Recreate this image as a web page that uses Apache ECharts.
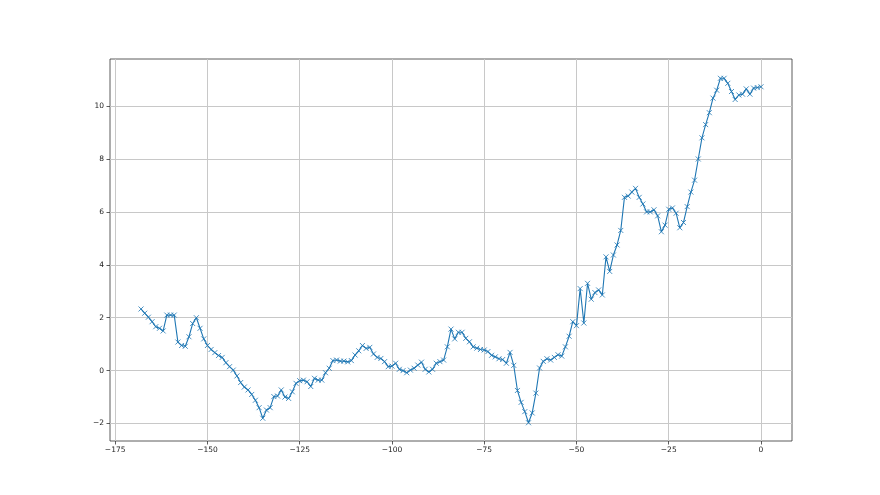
<!DOCTYPE html>
<html>
<head>
<meta charset="utf-8">
<script src="https://cdn.jsdelivr.net/npm/echarts@6/dist/echarts.min.js"></script>
<style>html,body{margin:0;padding:0;background:#fff;}#c{width:880px;height:495px;}</style>
</head>
<body>
<div id="c"></div>
<script>
const xStart = -168;
const values = [
 2.33, 2.17, 2.02, 1.85, 1.66, 1.6, 1.5, 2.1, 2.1, 2.1,
 1.08, 0.95, 0.92, 1.28, 1.78, 2.0, 1.6, 1.2, 0.95, 0.8,
 0.68, 0.57, 0.5, 0.3, 0.15, 0.02, -0.2, -0.45, -0.62, -0.73,
 -0.9, -1.12, -1.4, -1.8, -1.49, -1.4, -0.98, -0.96, -0.73, -1.0,
 -1.05, -0.8, -0.48, -0.38, -0.36, -0.42, -0.6, -0.29, -0.36, -0.36,
 -0.08, 0.09, 0.38, 0.4, 0.36, 0.36, 0.33, 0.38, 0.59, 0.75,
 0.95, 0.84, 0.88, 0.63, 0.5, 0.46, 0.34, 0.15, 0.17, 0.28,
 0.05, 0.0, -0.08, 0.02, 0.09, 0.21, 0.32, 0.05, -0.05, 0.05,
 0.28, 0.34, 0.4, 0.9, 1.57, 1.2, 1.45, 1.45, 1.22, 1.09,
 0.9, 0.85, 0.8, 0.78, 0.72, 0.58, 0.52, 0.45, 0.42, 0.28,
 0.69, 0.2, -0.75, -1.2, -1.55, -1.97, -1.6, -0.85, 0.1, 0.35,
 0.45, 0.4, 0.5, 0.6, 0.55, 0.9, 1.3, 1.85, 1.7, 3.1,
 1.8, 3.3, 2.7, 2.95, 3.05, 2.86, 4.3, 3.75, 4.37, 4.75,
 5.3, 6.55, 6.6, 6.75, 6.89, 6.55, 6.3, 6.0, 6.0, 6.08,
 5.85, 5.25, 5.5, 6.1, 6.15, 5.95, 5.4, 5.6, 6.2, 6.75,
 7.2, 8.0, 8.8, 9.3, 9.75, 10.3, 10.6, 11.05, 11.05, 10.86,
 10.55, 10.25, 10.42, 10.45, 10.65, 10.45, 10.68, 10.7, 10.73
];
const xTicks = [-175, -150, -125, -100, -75, -50, -25, 0];
const yTicks = [-2, 0, 2, 4, 6, 8, 10];

const data = values.map((v, i) => [xStart + i, v]);
const fmt = v => String(v).replace('-', '\u2212');
const labelStyle = {fontFamily: 'DejaVu Sans', fontSize: 7.5, color: '#222'};

const chart = echarts.init(document.getElementById('c'), null, {renderer: 'canvas'});
chart.setOption({
  animation: false,
  backgroundColor: '#fff',
  grid: {left: 110, right: 88, top: 59, bottom: 54, show: true, borderColor: '#333', borderWidth: 0.8, backgroundColor: 'transparent'},
  xAxis: {
    type: 'value', min: -176.4, max: 8.4,
    axisLine: {show: false, onZero: false},
    axisTick: {show: true, length: 3.5, inside: false, customValues: xTicks, lineStyle: {color: '#333', width: 0.8}},
    axisLabel: Object.assign({customValues: xTicks, margin: 5, formatter: fmt}, labelStyle),
    splitLine: {show: true, lineStyle: {color: '#c8c8c8', width: 1}}
  },
  yAxis: {
    type: 'value', min: -2.66, max: 11.78,
    axisLine: {show: false, onZero: false},
    axisTick: {show: true, length: 3.5, inside: false, customValues: yTicks, lineStyle: {color: '#333', width: 0.8}},
    axisLabel: Object.assign({customValues: yTicks, margin: 6, formatter: fmt}, labelStyle),
    splitLine: {show: true, lineStyle: {color: '#c8c8c8', width: 1}}
  },
  series: [{
    type: 'line',
    data: data,
    symbol: 'path://M0,0 L10,10 M10,0 L0,10',
    symbolSize: 5,
    showSymbol: true,
    lineStyle: {color: '#1f77b4', width: 1.1},
    itemStyle: {color: '#1f77b4', borderColor: '#1f77b4', borderWidth: 0.9, opacity: 0.9},
    emphasis: {disabled: true}
  }]
});
</script>
</body>
</html>
